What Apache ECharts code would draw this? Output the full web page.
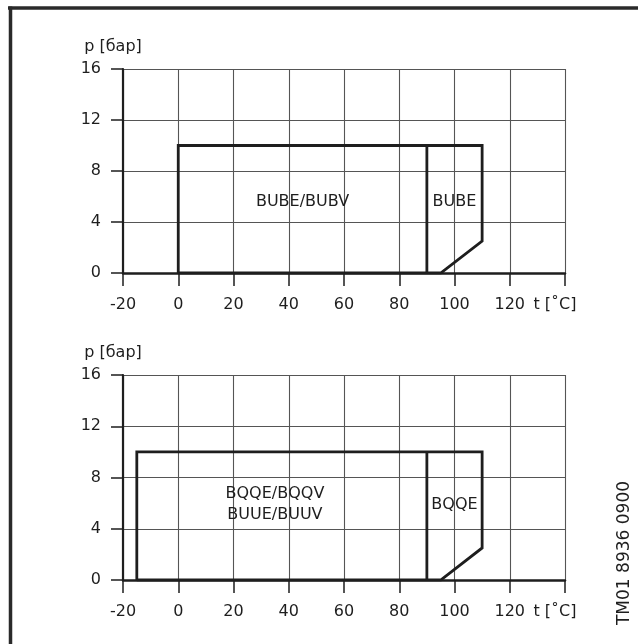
<!DOCTYPE html>
<html>
<head>
<meta charset="utf-8">
<script src="https://cdn.jsdelivr.net/npm/echarts@6/dist/echarts.min.js"></script>
<style>
  html, body { margin: 0; padding: 0; background: #fff; }
  #chart { width: 638px; height: 644px; }
</style>
</head>
<body>
<div id="chart"></div>
<script>
// Axis ticks (temperature in °C, pressure in bar)
const tempTicks = [-20, 0, 20, 40, 60, 80, 100, 120, 140];
const pressTicks = [0, 4, 8, 12, 16];
const tempAxisName = 't [˚C]';
const pressAxisName = 'p [бар]';

// Upper diagram: BUBE/BUBV operating envelope and BUBE extension
const upperEnvelopeT = [0, 0, 110, 110, 95, 0];
const upperEnvelopeP = [0, 10, 10, 2.5, 0, 0];
const upperDividerT = [90, 90];
const upperDividerP = [0, 10];
const upperLabels = ['BUBE/BUBV', 'BUBE'];
const upperLabelT = [45, 100];
const upperLabelP = [5.6, 5.6];

// Lower diagram: BQQE/BQQV, BUUE/BUUV envelope and BQQE extension
const lowerEnvelopeT = [-15, -15, 110, 110, 95, -15];
const lowerEnvelopeP = [0, 10, 10, 2.5, 0, 0];
const lowerDividerT = [90, 90];
const lowerDividerP = [0, 10];
const lowerLabels = ['BQQE/BQQV\nBUUE/BUUV', 'BQQE'];
const lowerLabelT = [35, 100];
const lowerLabelP = [5.9, 5.9];

const drawingCode = 'TM01 8936 0900';

const FONT = "'DejaVu Sans', 'Liberation Sans', Arial, sans-serif";
const INK = '#1e1e1e';

const zip = (xs, ys) => xs.map((x, i) => [x, ys[i]]);

function xAxisFor(gridIndex) {
  const step = tempTicks[1] - tempTicks[0];
  const last = tempTicks[tempTicks.length - 1];
  return {
    type: 'value', gridIndex,
    min: tempTicks[0], max: last, interval: step,
    axisLine: { show: true, onZero: false, lineStyle: { color: INK, width: 2.5 } },
    axisTick: { show: true, length: 13, lineStyle: { color: INK, width: 1.5 } },
    axisLabel: {
      margin: 24, color: INK, fontFamily: FONT, fontSize: 16,
      showMinLabel: true, showMaxLabel: true,
      formatter: v => v === last ? '{u|' + tempAxisName + '}' : String(v),
      rich: { u: { color: INK, fontFamily: FONT, fontSize: 16, padding: [0, 20, 0, 0] } }
    },
    splitLine: { show: true, lineStyle: { color: '#555', width: 1.1 } }
  };
}

function yAxisFor(gridIndex) {
  return {
    type: 'value', gridIndex,
    min: pressTicks[0], max: pressTicks[pressTicks.length - 1],
    interval: pressTicks[1] - pressTicks[0],
    name: pressAxisName, nameLocation: 'end', nameGap: 14,
    nameTextStyle: { color: INK, fontFamily: FONT, fontSize: 16, align: 'center', padding: [0, 20, 0, 0] },
    axisLine: { show: true, onZero: false, lineStyle: { color: INK, width: 2.2 } },
    axisTick: { show: true, length: 12, lineStyle: { color: INK, width: 1.5 } },
    axisLabel: { margin: 22, color: INK, fontFamily: FONT, fontSize: 16 },
    splitLine: { show: true, lineStyle: { color: '#555', width: 1.1 } }
  };
}

function outline(data, idx) {
  return {
    type: 'line', xAxisIndex: idx, yAxisIndex: idx,
    data, symbol: 'none', silent: true, z: 5,
    lineStyle: { color: INK, width: 2.8, join: 'miter' }
  };
}

function areaNames(names, ts, ps, idx) {
  return {
    type: 'scatter', xAxisIndex: idx, yAxisIndex: idx,
    symbolSize: 0, silent: true, z: 6,
    itemStyle: { opacity: 1 },
    data: names.map((n, i) => ({ name: n, value: [ts[i], ps[i]] })),
    label: {
      show: true, position: 'inside', formatter: p => p.name, opacity: 1,
      color: INK, fontFamily: FONT, fontSize: 16, lineHeight: 21, align: 'center'
    }
  };
}

const chart = echarts.init(document.getElementById('chart'), null, { renderer: 'canvas' });
chart.setOption({
  backgroundColor: '#fff',
  animation: false,
  grid: [
    { left: 123, top: 69, width: 442, height: 204 },
    { left: 123, top: 375, width: 442, height: 205 }
  ],
  xAxis: [xAxisFor(0), xAxisFor(1)],
  yAxis: [yAxisFor(0), yAxisFor(1)],
  series: [
    outline(zip(upperEnvelopeT, upperEnvelopeP), 0),
    outline(zip(upperDividerT, upperDividerP), 0),
    areaNames(upperLabels, upperLabelT, upperLabelP, 0),
    outline(zip(lowerEnvelopeT, lowerEnvelopeP), 1),
    outline(zip(lowerDividerT, lowerDividerP), 1),
    areaNames(lowerLabels, lowerLabelT, lowerLabelP, 1)
  ],
  graphic: [
    // frame along the top and left edges
    { type: 'line', shape: { x1: 8, y1: 8, x2: 638, y2: 8 }, style: { stroke: '#2a2a2a', lineWidth: 3.5 } },
    { type: 'line', shape: { x1: 10.5, y1: 6.5, x2: 10.5, y2: 644 }, style: { stroke: '#2a2a2a', lineWidth: 3.5 } },
    // drawing number, reading upwards
    {
      type: 'text', x: 625, y: 553, rotation: Math.PI / 2,
      style: { text: drawingCode, fill: INK, font: '17px ' + FONT, align: 'center', verticalAlign: 'middle' }
    }
  ]
});
</script>
</body>
</html>
